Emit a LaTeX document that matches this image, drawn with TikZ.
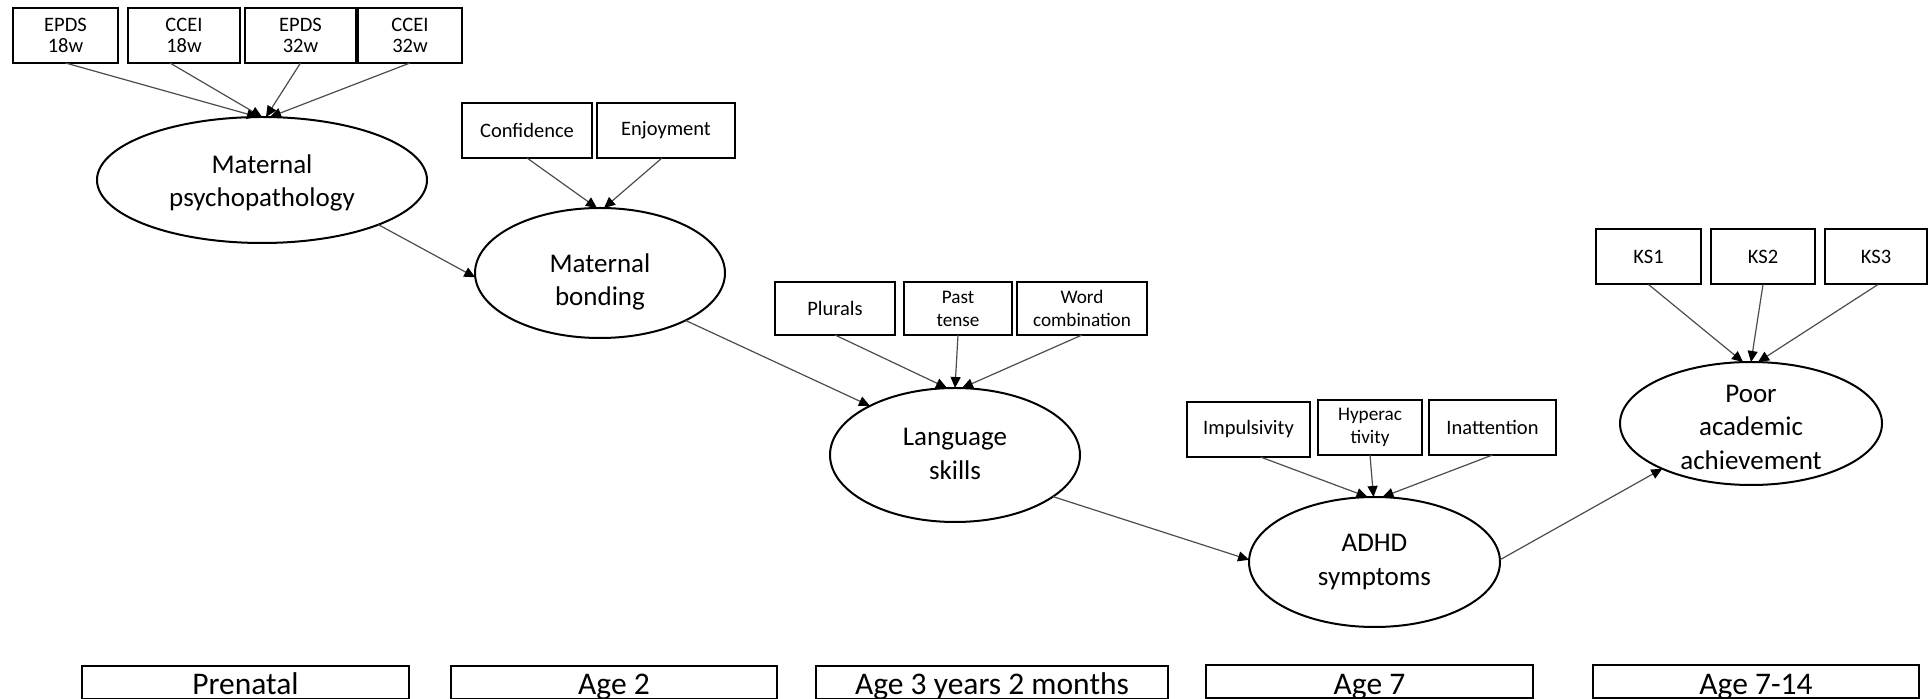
\documentclass[tikz,border=0pt]{standalone}
\usepackage{fontspec}
\setmainfont{Carlito}
\usetikzlibrary{arrows.meta,shapes.geometric}
\begin{document}
\begin{tikzpicture}[x=0.5pt,y=-0.5pt,
  ind/.style={draw,line width=1pt,rectangle,inner sep=0pt,outer sep=0pt,align=center,
    minimum height=27.5pt,font=\fontsize{10.25}{10.75}\selectfont},
  indsm/.style={ind,font=\fontsize{9.6}{11.5}\selectfont},
  lat/.style={draw,line width=1pt,ellipse,inner sep=0pt,outer sep=0pt},
  lattext/.style={align=center,inner sep=0pt,font=\fontsize{13.5}{16.75}\selectfont},
  agebox/.style={draw,line width=1pt,rectangle,inner sep=0pt,outer sep=0pt,
    text height=14.5pt,text depth=2pt,font=\fontsize{15.75}{18}\selectfont},
  link/.style={draw=black!70,line width=0.6pt,-{Triangle[length=5.5pt,width=5pt,color=black]}},
]
\useasboundingbox (0,0) rectangle (1928,699);
\clip (0,0) rectangle (1928,699);

% latent constructs
\node[lat,minimum width=165pt,minimum height=63pt] (mp) at (262,180) {};
\node[lattext] (mpt) at (262,183) {Maternal\\psychopathology};
\node[lat,minimum width=125pt,minimum height=65pt] (mb) at (600,273) {};
\node[lattext] (mbt) at (600,282) {Maternal\\bonding};
\node[lat,minimum width=125pt,minimum height=67pt] (ls) at (955,455) {};
\node[lattext] (lst) at (955,454) {Language\\skills};
\node[lat,minimum width=125.5pt,minimum height=65pt] (adhd) at (1374.5,562) {};
\node[lattext] (adhdt) at (1374.5,562) {ADHD\\symptoms};
\node[lat,minimum width=131pt,minimum height=61.5pt] (poor) at (1751,423.5) {};
\node[lattext] (poort) at (1751,427) {Poor\\academic\\achievement};

% indicators: maternal psychopathology
\node[ind,minimum width=52.5pt] (e18) at (65.5,35.5) {EPDS\\18w};
\node[ind,minimum width=56pt] (c18) at (184,35.5) {CCEI\\18w};
\node[ind,minimum width=55.5pt] (e32) at (300.5,35.5) {EPDS\\32w};
\node[ind,minimum width=52pt] (c32) at (410,35.5) {CCEI\\32w};
\draw[link] (e18.south) -- ([xshift=-2pt]mp.north);
\draw[link] ([xshift=-7pt]c18.south) -- ([xshift=0pt]mp.north);
\draw[link] (e32.south) -- ([xshift=2pt]mp.north);
\draw[link] (c32.south) -- ([xshift=4pt]mp.north);

% indicators: maternal bonding
\node[ind,minimum width=65pt] (conf) at (527,130.5) {Confidence};
\node[ind,minimum width=69pt] (enj) at (666,130.5) {Enjoyment};
\draw[link] (conf.south) -- ([xshift=-1.5pt]mb.north);
\draw[link] ([xshift=-2pt]enj.south) -- ([xshift=2pt]mb.north);

% indicators: language skills
\node[ind,minimum width=60pt,minimum height=26.5pt] (plu) at (835,308.5) {Plurals};
\node[indsm,minimum width=54pt,minimum height=26.5pt] (past) at (958,308.5) {Past\\tense};
\node[indsm,minimum width=65pt,minimum height=26.5pt] (word) at (1082,308.5) {Word\\combination};
\draw[link] (plu.south) -- ([xshift=-4pt]ls.north);
\draw[link] (past.south) -- ([xshift=0pt]ls.north);
\draw[link] (word.south) -- ([xshift=3.5pt]ls.north);

% indicators: ADHD symptoms
\node[ind,minimum width=61.5pt] (imp) at (1248.5,429.5) {Impulsivity};
\node[indsm,minimum width=52pt] (hyp) at (1370,427.5) {Hyperac\\tivity};
\node[ind,minimum width=63.5pt] (ina) at (1492.5,427.5) {Inattention};
\draw[link] ([xshift=6pt]imp.south) -- ([xshift=-3.5pt]adhd.north);
\draw[link] (hyp.south) -- ([xshift=-0.5pt]adhd.north);
\draw[link] (ina.south) -- ([xshift=4pt]adhd.north);

% indicators: academic achievement
\node[ind,minimum width=52.5pt] (ks1) at (1648.5,257) {KS1};
\node[ind,minimum width=52pt] (ks2) at (1763,257) {KS2};
\node[ind,minimum width=51pt] (ks3) at (1876,257) {KS3};
\draw[link] (ks1.south) -- ([xshift=-4pt]poor.north);
\draw[link] (ks2.south) -- ([xshift=0pt]poor.north);
\draw[link] ([xshift=1pt]ks3.south) -- ([xshift=3.5pt]poor.north);

% structural paths
\draw[link] (mp.-21) -- (mb.182);
\draw[link] (mb.-29) -- (ls.150);
\draw[link] (ls.-23) -- (adhd.179);
\draw[link] (adhd.1) -- (poor.207);

% time line
\node[agebox,minimum width=163.5pt] (t1) at (245.5,682.5) {Prenatal};
\node[agebox,minimum width=163pt] (t2) at (614,682.5) {Age 2};
\node[agebox,minimum width=176pt] (t3) at (992,682.5) {Age 3 years 2 months};
\node[agebox,minimum width=163.5pt] (t4) at (1369.5,682) {Age 7};
\node[agebox,minimum width=163pt] (t5) at (1756,682) {Age 7-14};
\end{tikzpicture}
\end{document}
